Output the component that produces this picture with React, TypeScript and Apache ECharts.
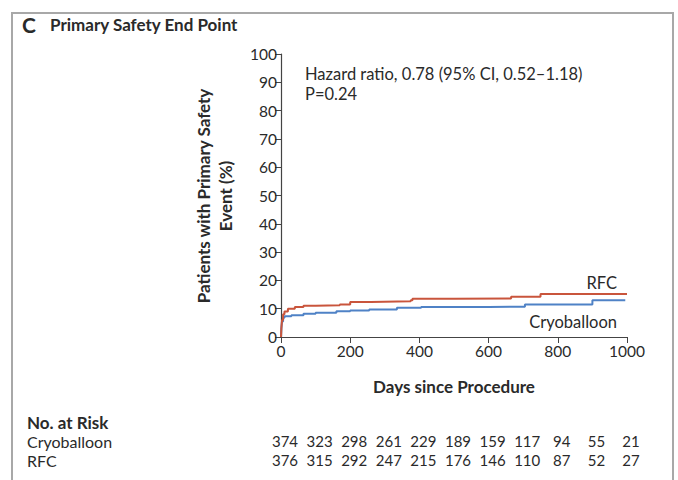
import React, { useEffect, useRef } from "react";
import * as echarts from "echarts";

const rfcDays = [0, 1, 3, 6, 10, 20, 40, 65, 100, 170, 200, 260, 375, 380, 500, 665, 750, 1000];
const rfcVals = [0, 3, 6, 8, 9, 10, 10.6, 11, 11.2, 11.5, 12.4, 12.6, 13.0, 13.5, 13.6, 14.2, 15.2, 15.2];
const cryoDays = [0, 1, 3, 6, 10, 30, 65, 100, 160, 200, 255, 335, 405, 600, 705, 900, 995];
const cryoVals = [0, 3, 5.5, 6.8, 7.3, 7.7, 8.2, 8.6, 9.1, 9.4, 9.7, 10.3, 10.6, 10.7, 11.5, 13.0, 13.0];
const riskDays = [0, 100, 200, 300, 400, 500, 600, 700, 800, 900, 1000];
const riskCryo = [374, 323, 298, 261, 229, 189, 159, 117, 94, 55, 21];
const riskRfc = [376, 315, 292, 247, 215, 176, 146, 110, 87, 52, 27];

const FONT = "Lato";
const TEXT = "#2a2a2a";

export default function App() {
  const ref = useRef<HTMLDivElement>(null);
  useEffect(() => {
    const chart = echarts.init(ref.current!, null, { renderer: "svg" });
    const option: any = {
      animation: false,
      backgroundColor: "#fff",
      textStyle: { fontFamily: FONT },
      grid: { left: 281, top: 54, right: 51, bottom: 143 },
      xAxis: {
        type: "value",
        min: 0,
        max: 1000,
        interval: 200,
        axisLine: { lineStyle: { color: "#444", width: 1.2 } },
        axisTick: { length: 6, lineStyle: { color: "#444" } },
        axisLabel: { color: TEXT, fontSize: 15.5, margin: 6, fontFamily: FONT, formatter: (v: number) => String(v) },
        splitLine: { show: false },
      },
      yAxis: {
        type: "value",
        min: 0,
        max: 100,
        interval: 10,
        axisLine: { show: true, lineStyle: { color: "#444", width: 1.2 } },
        axisTick: { show: true, length: 6, lineStyle: { color: "#444" } },
        axisLabel: { color: TEXT, fontSize: 15.5, margin: 4, fontFamily: FONT },
        splitLine: { show: false },
      },
      series: [
        {
          name: "RFC",
          type: "line",
          step: "end",
          symbol: "none",
          data: rfcDays.map((d, i) => [d, rfcVals[i]]),
          lineStyle: { color: "#c9553c", width: 2 },
          z: 3,
        },
        {
          name: "Cryoballoon",
          type: "line",
          step: "end",
          symbol: "none",
          data: cryoDays.map((d, i) => [d, cryoVals[i]]),
          lineStyle: { color: "#4f82c6", width: 2 },
          z: 2,
        },
      ],
    };
    chart.setOption(option);

    const px = (d: number) => chart.convertToPixel({ xAxisIndex: 0 }, d) as number;
    const graphics: any[] = [
      {
        type: "rect",
        shape: { x: 12, y: 13, width: 661, height: 480 },
        style: { fill: "none", stroke: "#a8a8a8", lineWidth: 2 },
        silent: true,
      },
      {
        type: "text",
        x: 22,
        y: 24,
        style: { text: "C", font: `bold 21px "${FONT}"`, fill: TEXT, textVerticalAlign: "middle" },
      },
      {
        type: "text",
        x: 50,
        y: 24,
        style: { text: "Primary Safety End Point", font: `bold 17px "${FONT}"`, fill: TEXT, textVerticalAlign: "middle" },
      },
      {
        type: "text",
        x: 214,
        y: 196,
        rotation: Math.PI / 2,
        style: {
          text: "Patients with Primary Safety\nEvent (%)",
          font: `bold 17px "${FONT}"`,
          lineHeight: 22,
          fill: TEXT,
          textAlign: "center",
          textVerticalAlign: "middle",
        },
      },
      {
        type: "text",
        x: 454,
        y: 386,
        style: { text: "Days since Procedure", font: `bold 17px "${FONT}"`, fill: TEXT, textAlign: "center", textVerticalAlign: "middle" },
      },
      {
        type: "text",
        x: 305,
        y: 74,
        style: { text: "Hazard ratio, 0.78 (95% CI, 0.52\u20131.18)", font: `16.5px "${FONT}"`, fill: TEXT, textVerticalAlign: "middle" },
      },
      {
        type: "text",
        x: 305,
        y: 94,
        style: { text: "P=0.24", font: `16.5px "${FONT}"`, fill: TEXT, textVerticalAlign: "middle" },
      },
      {
        type: "text",
        x: 617,
        y: 283,
        style: { text: "RFC", font: `16.5px "${FONT}"`, fill: TEXT, textAlign: "right", textVerticalAlign: "middle" },
      },
      {
        type: "text",
        x: 617,
        y: 322,
        style: { text: "Cryoballoon", font: `16.5px "${FONT}"`, fill: TEXT, textAlign: "right", textVerticalAlign: "middle" },
      },
      {
        type: "text",
        x: 27,
        y: 422,
        style: { text: "No. at Risk", font: `bold 17px "${FONT}"`, fill: TEXT, textVerticalAlign: "middle" },
      },
      {
        type: "text",
        x: 27,
        y: 441,
        style: { text: "Cryoballoon", font: `16px "${FONT}"`, fill: TEXT, textVerticalAlign: "middle" },
      },
      {
        type: "text",
        x: 27,
        y: 460,
        style: { text: "RFC", font: `16px "${FONT}"`, fill: TEXT, textVerticalAlign: "middle" },
      },
    ];
    riskDays.forEach((d, i) => {
      const x = px(d) + 4;
      graphics.push({
        type: "text",
        x,
        y: 441,
        style: { text: String(riskCryo[i]), font: `15px "${FONT}"`, fill: TEXT, textAlign: "center", textVerticalAlign: "middle" },
      });
      graphics.push({
        type: "text",
        x,
        y: 460,
        style: { text: String(riskRfc[i]), font: `15px "${FONT}"`, fill: TEXT, textAlign: "center", textVerticalAlign: "middle" },
      });
    });
    chart.setOption({ graphic: graphics });
    return () => chart.dispose();
  }, []);
  return <div ref={ref} style={{ position: "fixed", left: 0, top: 0, width: 678, height: 480 }} />;
}
